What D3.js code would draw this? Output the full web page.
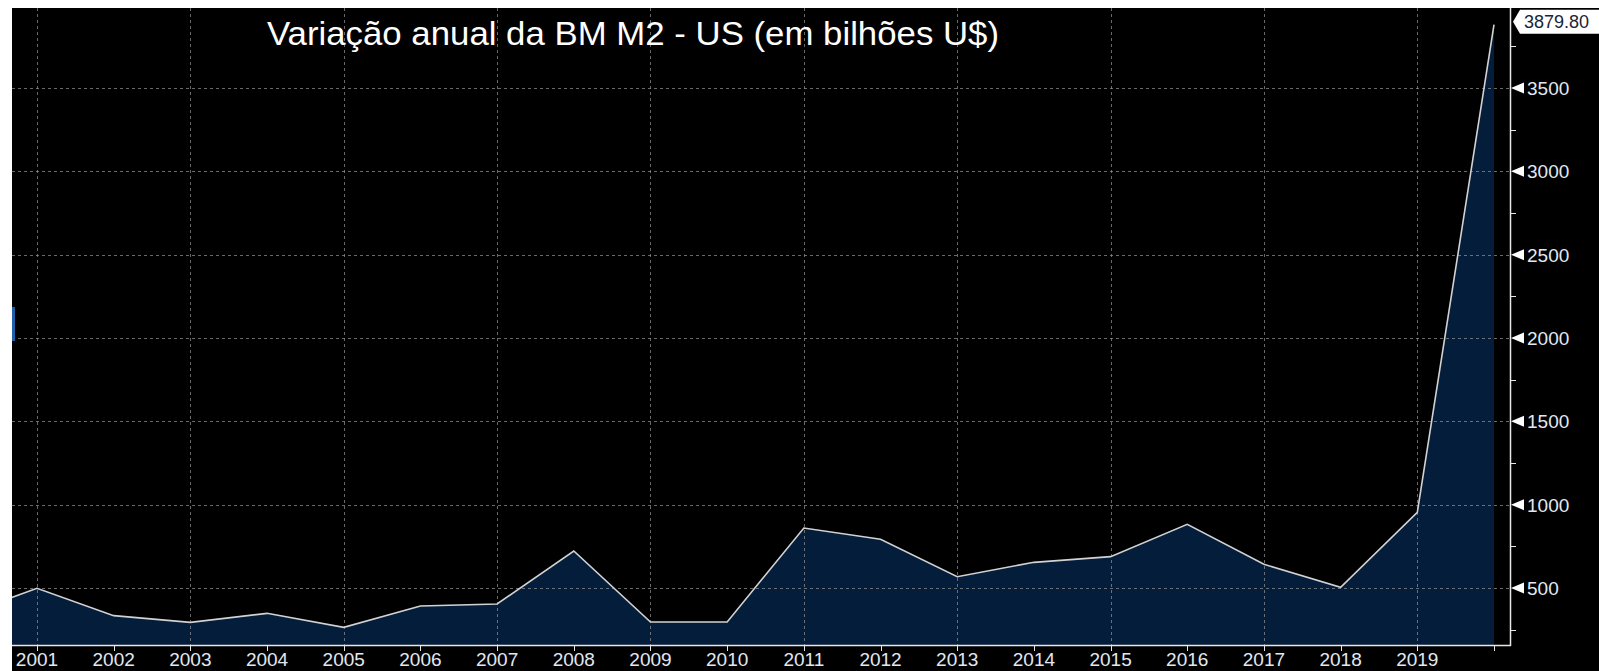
<!DOCTYPE html>
<html>
<head>
<meta charset="utf-8">
<script src="https://cdn.jsdelivr.net/npm/d3@7"></script>
<style>
  html, body { margin: 0; padding: 0; background: #fff; }
  svg { display: block; }
  text { font-family: "Liberation Sans", Arial, sans-serif; }
</style>
</head>
<body>
<svg id="chart" width="1599" height="671"></svg>
<script>
// annual change of US M2 money supply, billions of US$
const years = [2000, 2001, 2002, 2003, 2004, 2005, 2006, 2007, 2008, 2009, 2010,
  2011, 2012, 2013, 2014, 2015, 2016, 2017, 2018, 2019, 2020];
const values = [332, 498, 334, 294, 348, 264, 392, 404, 722, 296, 296,
  860, 792, 568, 654, 688, 882, 642, 504, 954, 3879.8];
const tickYears = d3.range(2001, 2021);
const gridYears = d3.range(2001, 2020, 2);
const yMajor = [500, 1000, 1500, 2000, 2500, 3000, 3500];
const yMinor = [250, 750, 1250, 1750, 2250, 2750, 3250, 3750];
const title = 'Variação anual da BM M2 - US (em bilhões U$)';

const svg = d3.select('#chart');
const pLeft = 12, pTop = 8, pRight = 1510, pBottom = 645;

const x = d3.scaleLinear().domain([2001, 2020]).range([37, 1494]);
const y = d3.scaleLinear().domain([158, 3980]).range([pBottom, pTop]);

// black background
svg.append('rect')
  .attr('x', pLeft).attr('y', pTop)
  .attr('width', 1599 - pLeft).attr('height', 671 - pTop)
  .attr('fill', '#000');

svg.append('clipPath').attr('id', 'plot')
  .append('rect')
  .attr('x', pLeft).attr('y', pTop)
  .attr('width', pRight - pLeft).attr('height', pBottom - pTop);

const data = years.map((yr, i) => [yr, values[i]]);

const area = d3.area()
  .x(d => x(d[0]))
  .y0(pBottom)
  .y1(d => y(d[1]));
const line = d3.line()
  .x(d => x(d[0]))
  .y(d => y(d[1]));

const plot = svg.append('g').attr('clip-path', 'url(#plot)');

plot.append('path')
  .datum(data)
  .attr('d', area)
  .attr('fill', '#041d3b');

// dashed grid on top of the area
const grid = plot.append('g')
  .attr('stroke', '#8c8c8c')
  .attr('stroke-opacity', 0.75)
  .attr('stroke-dasharray', '3,3')
  .attr('stroke-width', 1);

grid.selectAll('line.h')
  .data(yMajor)
  .enter()
  .append('line')
  .attr('class', 'h')
  .attr('x1', pLeft).attr('x2', pRight)
  .attr('y1', d => Math.round(y(d)) + 0.5)
  .attr('y2', d => Math.round(y(d)) + 0.5);

grid.selectAll('line.v')
  .data(gridYears)
  .enter()
  .append('line')
  .attr('class', 'v')
  .attr('y1', pTop).attr('y2', pBottom)
  .attr('x1', d => Math.round(x(d)) + 0.5)
  .attr('x2', d => Math.round(x(d)) + 0.5);

plot.append('path')
  .datum(data)
  .attr('d', line)
  .attr('fill', 'none')
  .attr('stroke', '#d2d2d2')
  .attr('stroke-width', 1.6);

// axes
const axisColor = '#e8e8e8';
const labelColor = '#e2e8f0';

svg.append('line')
  .attr('x1', pLeft).attr('x2', pRight + 1)
  .attr('y1', pBottom + 0.5).attr('y2', pBottom + 0.5)
  .attr('stroke', axisColor).attr('stroke-width', 1.5);
svg.append('line')
  .attr('x1', pRight + 0.5).attr('x2', pRight + 0.5)
  .attr('y1', pTop).attr('y2', pBottom + 1)
  .attr('stroke', axisColor).attr('stroke-width', 1.5);

const xAxis = svg.append('g');
xAxis.selectAll('line')
  .data(tickYears)
  .enter()
  .append('line')
  .attr('x1', d => Math.round(x(d)) + 0.5)
  .attr('x2', d => Math.round(x(d)) + 0.5)
  .attr('y1', pBottom).attr('y2', pBottom + 6)
  .attr('stroke', axisColor);
xAxis.selectAll('text')
  .data(tickYears.slice(0, -1))
  .enter()
  .append('text')
  .attr('x', d => x(d))
  .attr('y', 666)
  .attr('text-anchor', 'middle')
  .attr('font-size', 19)
  .attr('fill', labelColor)
  .text(d => d);

const yAxis = svg.append('g');
yAxis.selectAll('line')
  .data(yMinor)
  .enter()
  .append('line')
  .attr('x1', pRight).attr('x2', pRight + 6)
  .attr('y1', d => Math.round(y(d)) + 0.5)
  .attr('y2', d => Math.round(y(d)) + 0.5)
  .attr('stroke', axisColor);
yAxis.selectAll('path')
  .data(yMajor)
  .enter()
  .append('path')
  .attr('d', d => {
    const yy = y(d);
    return `M${pRight + 1},${yy} L${pRight + 14},${yy - 5.5} L${pRight + 14},${yy + 5.5} Z`;
  })
  .attr('fill', '#fff');
yAxis.selectAll('text')
  .data(yMajor)
  .enter()
  .append('text')
  .attr('x', 1527)
  .attr('y', d => y(d) + 7)
  .attr('font-size', 19)
  .attr('fill', labelColor)
  .text(d => d);

// last value flag
const last = data[data.length - 1];
const ly = y(last[1]) - 3;
svg.append('path')
  .attr('d', `M1513,${ly} L1520,${ly - 12} L1599,${ly - 12} L1599,${ly + 12} L1520,${ly + 12} Z`)
  .attr('fill', '#fff');
svg.append('text')
  .attr('x', 1524)
  .attr('y', ly + 6.5)
  .attr('font-size', 18)
  .attr('fill', '#1b2436')
  .text(d3.format('.2f')(last[1]));

// small blue marker on the left edge
svg.append('rect')
  .attr('x', pLeft).attr('y', 307)
  .attr('width', 3).attr('height', 34)
  .attr('fill', '#1f5fa8');

// title
svg.append('text')
  .attr('x', 267)
  .attr('y', 45)
  .attr('font-size', 33)
  .attr('fill', '#fff')
  .attr('textLength', 732)
  .attr('lengthAdjust', 'spacingAndGlyphs')
  .text(title);
</script>
</body>
</html>
